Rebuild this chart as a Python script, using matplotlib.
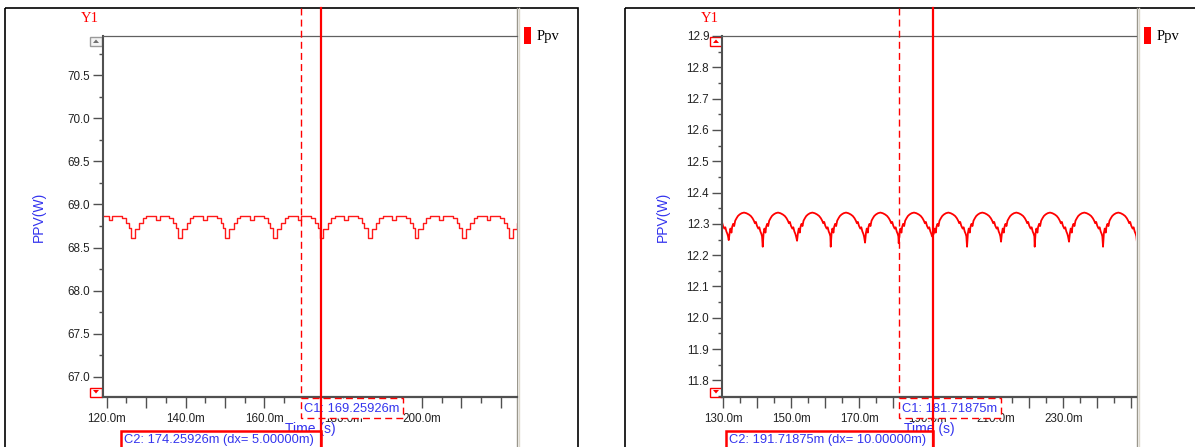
import matplotlib
matplotlib.use("Agg")
import matplotlib.pyplot as plt
from matplotlib.patches import Rectangle, Polygon
from matplotlib.ticker import FixedLocator, MultipleLocator, FuncFormatter
from matplotlib.transforms import blended_transform_factory

plt.rcParams['font.family'] = ['Liberation Sans', 'DejaVu Sans']

# ---------------- data ----------------
series_name = "Ppv"
y_label = "PPV(W)"
x_label = "Time (s)"
axis_tag = "Y1"

# left panel
left_xlim = (119.06, 224.1)
left_ylim = (66.764, 70.956)
left_yticks = [67.0, 67.5, 68.0, 68.5, 69.0, 69.5, 70.0, 70.5]
left_xticks_labeled = [120, 140, 160, 180, 200]
left_xticklabels = ["120.0m", "140.0m", "160.0m", "180.0m", "200.0m"]
left_c1 = 169.25926
left_c2 = 174.25926
# dip centres of the stair-step ripple (ms)
left_dip_times = [114.7, 126.7, 138.7, 150.6, 162.7, 174.5, 186.7, 198.6, 210.6, 222.5]
# one ripple period: step start offsets from dip centre (ms) and levels (W)
left_prof_dt = [-0.5, 0.5, 1.6, 2.5, 3.3, 5.8, 6.7, 9.2, 10.2, 10.9]
left_prof_v = [68.606, 68.720, 68.787, 68.838, 68.862, 68.817, 68.862, 68.838, 68.784, 68.726]

# right panel
right_xlim = (129.62, 251.4)
right_ylim = (11.747, 12.9)
right_yticks = [11.8, 11.9, 12.0, 12.1, 12.2, 12.3, 12.4, 12.5, 12.6, 12.7, 12.8, 12.9]
right_xticks_labeled = [130, 150, 170, 190, 210, 230]
right_xticklabels = ["130.0m", "150.0m", "170.0m", "190.0m", "210.0m", "230.0m"]
right_c1 = 181.71875
right_c2 = 191.71875
right_dip_times = [121.6, 131.6, 141.6, 151.7, 161.6, 171.7, 181.6, 191.7, 201.7, 211.7, 221.6, 231.7, 241.7, 251.7]
right_dip_depth = [12.24, 12.248, 12.227, 12.246, 12.227, 12.24, 12.238, 12.264, 12.227, 12.243, 12.227, 12.243, 12.227, 12.24]
right_prof_dt = [0.25, 0.5, 0.8, 1.0, 1.3, 1.6, 1.9, 2.3, 2.7, 3.2, 3.8, 4.5, 5.2, 5.9, 6.5,
                 7.0, 7.4, 7.7, 8.0, 8.3, 8.7, 9.0, 9.3, 9.6, 9.8]
right_prof_v = [12.270, 12.285, 12.272, 12.290, 12.300, 12.293, 12.310, 12.318, 12.325, 12.330,
                12.334, 12.336, 12.334, 12.330, 12.325, 12.318, 12.310, 12.302, 12.306, 12.294,
                12.285, 12.289, 12.276, 12.268, 12.260]

# ---------------- build traces from the read profile ----------------
lt, lv = [], []
for d in left_dip_times:
    for dt, val in zip(left_prof_dt, left_prof_v):
        lt.append(d + dt)
        lv.append(val)

rt, rv = [], []
for d, depth in zip(right_dip_times, right_dip_depth):
    rt.append(d)
    rv.append(depth)
    for dt, val in zip(right_prof_dt, right_prof_v):
        rt.append(d + dt)
        rv.append(val)

# ---------------- figure ----------------
W, H = 1195, 447
fig = plt.figure(figsize=(W / 100, H / 100), dpi=100)
fig.patch.set_facecolor('white')

bg = fig.add_axes([0, 0, 1, 1])
bg.set_xlim(0, W)
bg.set_ylim(H, 0)
bg.axis('off')
bg.set_zorder(0)

RED = '#ff0000'
BLUE = '#3434ee'
SPINE = '#505050'


def make_panel(px, xlim, ylim, yticks, ystep_minor, xlab_pos, xlab_txt, x_first):
    x0, y0, x1, y1 = px
    ax = fig.add_axes([x0 / W, 1 - y1 / H, (x1 - x0) / W, (y1 - y0) / H])
    ax.set_zorder(2)
    ax.set_xlim(*xlim)
    ax.set_ylim(*ylim)
    ax.spines['right'].set_visible(False)
    ax.spines['top'].set_color('#606060')
    ax.spines['top'].set_linewidth(0.9)
    ax.spines['left'].set_color(SPINE)
    ax.spines['left'].set_linewidth(1.5)
    ax.spines['bottom'].set_color(SPINE)
    ax.spines['bottom'].set_linewidth(1.6)
    ax.set_yticks(yticks)
    ax.set_yticklabels([f"{v:.1f}" for v in yticks])
    ax.yaxis.set_minor_locator(MultipleLocator(ystep_minor))
    major_x = list(range(x_first, int(xlim[1]) + 1, 10))
    ax.xaxis.set_major_locator(FixedLocator(major_x))
    ax.xaxis.set_minor_locator(MultipleLocator(5))
    lab = dict(zip(xlab_pos, xlab_txt))
    ax.xaxis.set_major_formatter(FuncFormatter(lambda v, p: lab.get(int(round(v)), "")))
    ax.tick_params(axis='y', which='major', length=7.2, width=1.0, color=SPINE,
                   labelsize=8.4, labelcolor='#222222', pad=2)
    ax.tick_params(axis='y', which='minor', length=2.6, width=1.0, color=SPINE)
    ax.tick_params(axis='x', which='major', length=7.8, width=1.0, color=SPINE,
                   labelsize=8.4, labelcolor='#222222', pad=3.5)
    ax.tick_params(axis='x', which='minor', length=4.0, width=1.0, color=SPINE)
    ax.set_ylabel(y_label, color=BLUE, fontsize=10)
    ax.set_xlabel(x_label, color=BLUE, fontsize=10)
    return ax


axL = make_panel((103, 36, 517, 397), left_xlim, left_ylim, left_yticks, 0.25,
                 left_xticks_labeled, left_xticklabels, 120)
axR = make_panel((722, 36, 1136, 397), right_xlim, right_ylim, right_yticks, 0.05,
                 right_xticks_labeled, right_xticklabels, 130)

axL.yaxis.set_label_coords((46 - 103) / 414, 0.5)
axR.yaxis.set_label_coords((670 - 722) / 414, 0.5)
for ax in (axL, axR):
    ax.xaxis.set_label_coords(0.5, (397 - 429.5) / 361)
    ax.xaxis.label.set_va('center')

axL.plot(lt, lv, color=RED, lw=1.0, drawstyle='steps-post', alpha=0.9)
axR.plot(rt, rv, color=RED, lw=1.3)

# ---------------- panel chrome (background layer) ----------------
for (bx0, bx1, div, ylx, leg_x, up_grey, ybtn_x) in [
        (5, 578, 518, 90, 524, True, 90),
        (625, 1260, 1138, 710, 1144, False, 710)]:
    bg.add_patch(Rectangle((bx0, 8), bx1 - bx0, 470, fill=False, ec='black', lw=1.2))
    bg.plot([div - 0.5, div - 0.5], [8, H], color='#9a978c', lw=1.0)
    bg.plot([div + 1, div + 1], [8, H], color='#dcd8cc', lw=1.0)
    bg.add_patch(Rectangle((leg_x, 27), 7, 17, color=RED, lw=0))
    bg.text(leg_x + 13, 36.5, series_name, family='Liberation Serif', fontsize=10.5,
            color='black', va='center', ha='left')
    bg.text(ylx, 19, axis_tag, family='Liberation Serif', fontsize=10.5, color=RED,
            va='center', ha='center')
    # scroll buttons
    ec_up = '#9a9a9a' if up_grey else RED
    fc_tri = '#707070' if up_grey else RED
    bg.add_patch(Rectangle((ybtn_x, 36.5), 12, 9, fc='#f4f4f4' if up_grey else 'white',
                           ec=ec_up, lw=1.0))
    bg.add_patch(Polygon([(ybtn_x + 3, 43), (ybtn_x + 9, 43), (ybtn_x + 6, 39.5)],
                         closed=True, color=fc_tri, lw=0))
    bg.add_patch(Rectangle((ybtn_x, 387.5), 12, 9.5, fc='white', ec=RED, lw=1.0))
    bg.add_patch(Polygon([(ybtn_x + 3, 390), (ybtn_x + 9, 390), (ybtn_x + 6, 393.5)],
                         closed=True, color=RED, lw=0))

# ---------------- cursors (top layer) ----------------
top = fig.add_axes([0, 0, 1, 1])
top.set_xlim(0, W)
top.set_ylim(H, 0)
top.axis('off')
top.patch.set_alpha(0)
top.set_zorder(10)


def cursor_px(ax, t):
    disp = ax.transData.transform((t, ax.get_ylim()[0]))
    return top.transData.inverted().transform(disp)[0]


for ax, c1, c2, c2w in [(axL, left_c1, left_c2, 200), (axR, right_c1, right_c2, 207)]:
    tr = blended_transform_factory(ax.transData, top.transData)
    p1 = cursor_px(ax, c1)
    p2 = cursor_px(ax, c2)
    # C1 dashed cursor and label box
    top.plot([c1, c1], [8, 398], transform=tr, color=RED, lw=1.0,
             dashes=(5, 3), zorder=3)
    top.add_patch(Rectangle((p1, 398), 102, 20, fc='white', ec=RED, lw=1.0,
                            ls=(0, (5, 3)), zorder=4))
    top.text(p1 + 3, 408.5, f"C1: {c1:.5f}m", color=BLUE, fontsize=9.3,
             va='center', ha='left', zorder=5)
    # C2 solid cursor and label box
    top.add_patch(Rectangle((p2 - c2w, 431), c2w, 30, fc='white', ec=RED, lw=1.8, zorder=4))
    top.text(p2 - c2w + 3, 440.5, f"C2: {c2:.5f}m (dx= {c2 - c1:.5f}m)", color=BLUE,
             fontsize=9.3, va='center', ha='left', zorder=5)
    top.plot([c2, c2], [8, H], transform=tr, color=RED, lw=1.6, zorder=6)

fig.savefig("out.png", dpi=100, facecolor='white')
